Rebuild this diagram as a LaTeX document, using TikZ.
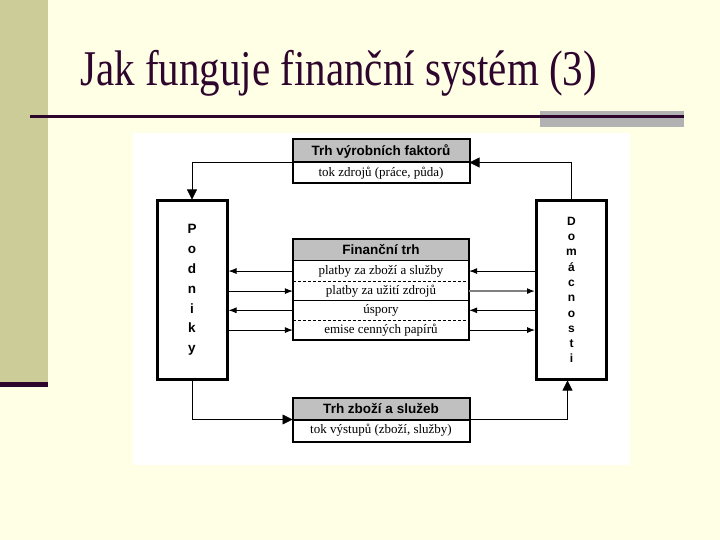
\documentclass[tikz,border=0pt]{standalone}
\usepackage{fontspec}
\setmainfont{Liberation Serif}
\setsansfont{Liberation Sans}
\newfontfamily\titlefont[FakeStretch=0.82]{Liberation Serif}
\usetikzlibrary{positioning,arrows.meta}
\definecolor{slidebg}{RGB}{255,255,229}
\definecolor{bandcol}{RGB}{204,204,153}
\definecolor{titlecol}{RGB}{45,5,45}
\definecolor{cellgrey}{RGB}{192,192,192}
\definecolor{linegrey}{RGB}{178,178,178}

\begin{document}
\begin{tikzpicture}[x=1pt, y=-1pt,
					head/.style={draw, line width=1pt, fill=cellgrey, minimum width=176pt, inner sep=0pt,
						font=\sffamily\bfseries\fontsize{13.5}{15}\selectfont},
					cell/.style={minimum width=176pt, inner sep=0pt, font=\fontsize{13}{15}\selectfont},
					sector/.style={draw, line width=3pt, minimum width=70pt, minimum height=178pt,
						align=center, inner sep=0pt},
					flow/.style={line width=0.8pt, -{Triangle[length=10pt,width=10pt]}},
					pay/.style={line width=0.8pt, -{Latex[length=8pt,width=6pt,black]}}]
					% slide
					\fill[slidebg] (0,0) rectangle (720,540);
					\useasboundingbox (0,0) rectangle (720,540);
					\fill[bandcol] (0,0) rectangle (48,382);
					\fill[titlecol] (0,382) rectangle (48,387);
					\fill[linegrey] (540,111) rectangle (684,127);
					\draw[titlecol, line width=3pt] (30,117) -- (684,117);
					\node[anchor=base west, inner sep=0pt, text=titlecol,
						font=\titlefont\fontsize{50}{60}\selectfont] (title) at (80,86) {Jak funguje finanční systém (3)};
					\fill[white] (133,133) rectangle (630,465);
					% markets
					\node[head, minimum height=22pt] (vf) at (381,151) {Trh výrobních faktorů};
					\node[cell, draw, line width=1pt, minimum height=20pt, below=0pt of vf] (vfz) {tok zdrojů (práce, půda)};
					\draw[line width=2pt] (vf.north west) rectangle (vfz.south east);
					\node[head, minimum height=21pt] (ft) at (381,249.5) {Finanční trh};
					\node[cell, minimum height=20.7pt, below=0pt of ft] (r1) {platby za zboží a služby};
					\node[cell, minimum height=18.6pt, below=0pt of r1] (r2) {platby za užití zdrojů};
					\node[cell, minimum height=19pt, below=0pt of r2] (r3) {úspory};
					\node[cell, minimum height=19.7pt, below=0pt of r3] (r4) {emise cenných papírů};
					\draw[dash pattern=on 3pt off 2pt] (r1.south west) -- (r1.south east);
					\draw (r2.south west) -- (r2.south east);
					\draw[dash pattern=on 3pt off 2pt] (r3.south west) -- (r3.south east);
					\draw[line width=2pt] (ft.north west) rectangle (r4.south east);
					\node[head, minimum height=21pt] (zs) at (381,408.5) {Trh zboží a služeb};
					\node[cell, draw, line width=1pt, minimum height=21pt, below=0pt of zs] (zsz) {tok výstupů (zboží, služby)};
					\draw[line width=2pt] (zs.north west) rectangle (zsz.south east);
					% sectors
					\node[sector, font=\sffamily\bfseries\fontsize{13.5}{19.8}\selectfont] (pod) at (192,290) {P\\o\\d\\n\\i\\k\\y};
					\node[sector, font=\sffamily\bfseries\fontsize{12}{15.3}\selectfont] (dom) at (571.5,290) {D\\o\\m\\á\\c\\n\\o\\s\\t\\i};
					% flows
					\draw[flow] (dom.north) |- (vf.south east);
					\draw[flow] (vf.south west) -| (pod.north);
					\draw[flow] (pod.south) |- (zs.south west);
					\draw[flow] (zs.south east) -| ([xshift=-4pt]dom.south);
					\draw[pay] (r1.west) -- (r1.west -| pod.east);
					\draw[pay] (r2.west -| pod.east) -- (r2.west);
					\draw[pay] (r3.west) -- (r3.west -| pod.east);
					\draw[pay] (r4.west -| pod.east) -- (r4.west);
					\draw[pay] (r1.east -| dom.west) -- (r1.east);
					\draw[pay, gray, line width=1.4pt] (r2.east) -- (r2.east -| dom.west);
					\draw[pay] (r3.east -| dom.west) -- (r3.east);
					\draw[pay] (r4.east) -- (r4.east -| dom.west);
				\end{tikzpicture}
\end{document}
